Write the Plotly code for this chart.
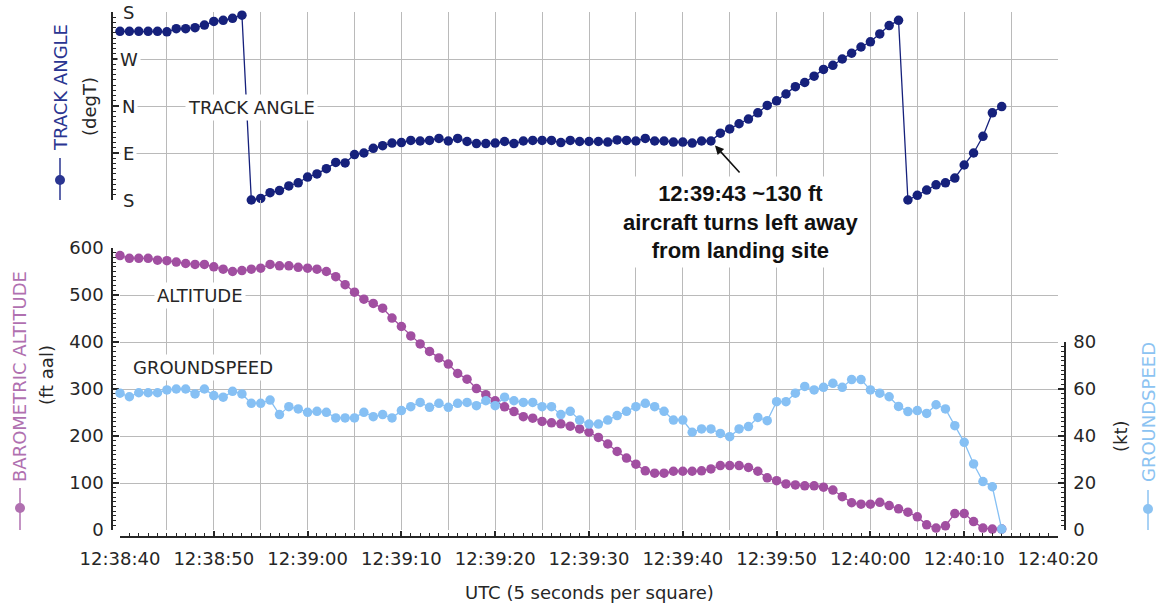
import pandas as pd
import plotly.graph_objects as go

# ---------------- data ----------------
START = "2024-01-01 12:38:40"
END = "2024-01-01 12:40:20"
TIMES = pd.date_range(START, periods=95, freq="1s")

TRACK_DEGT = [217, 217, 217, 217, 217, 218, 212, 212, 210, 205, 198, 196, 192, 186,
              180, 177, 166, 162, 153, 147, 136, 130, 120, 108, 109, 93, 90, 81, 76, 71,
              70, 66, 67, 66, 62, 67, 62, 68, 72, 72,
              71, 68, 72, 67, 66, 66, 66, 70, 66, 68,
              68, 68, 69, 65, 66, 67, 62, 67, 67, 69,
              69, 71, 67, 67, 52, 44, 34, 25, 13, 359,
              350, 337, 323, 315, 303, 290, 282, 270, 259, 247, 237, 222, 206, 196,
              180, 171, 161, 151, 147, 138, 113, 90, 58, 13, 1]

ALT_FT = [584, 578, 578, 578, 574, 573, 570, 567, 565, 565,
          560, 555, 550, 552, 555, 557, 565, 562, 562, 559,
          557, 555, 550, 539, 522, 506, 491, 482, 472, 451,
          433, 413, 396, 380, 366, 353, 333, 321, 301, 288,
          275, 262, 252, 241, 238, 231, 228, 226, 221, 215,
          208, 197, 183, 167, 153, 140, 126, 121, 121, 125,
          125, 125, 126, 130, 137, 137, 137, 133, 125, 111,
          105, 98, 96, 94, 94, 91, 85, 71, 58, 55,
          55, 59, 52, 45, 38, 28, 11, 4, 9, 35,
          35, 18, 4, 2, 2]

GS_KT = [58.2, 56.7, 58.4, 58.4, 58.4, 59.6, 60.0, 60.0, 57.9, 60.0,
         57.2, 56.5, 59.0, 57.9, 53.9, 53.9, 55.3, 49.1, 52.5, 51.5,
         50.1, 50.5, 50.1, 47.7, 47.7, 47.7, 50.1, 48.2, 49.1, 47.7,
         50.8, 52.5, 54.3, 52.2, 53.9, 52.2, 53.9, 54.3, 52.9, 55.0,
         52.9, 56.5, 55.0, 54.3, 54.3, 52.5, 52.5, 49.1, 50.5, 46.8,
         45.1, 45.1, 46.8, 48.7, 50.5, 52.5, 53.9, 52.5, 50.5, 46.8,
         46.8, 41.6, 43.0, 43.0, 41.1, 39.7, 43.0, 44.0, 47.9, 46.5,
         54.6, 54.6, 58.2, 61.1, 59.6, 60.7, 62.4, 60.7, 64.0, 64.0,
         59.6, 58.2, 56.7, 52.6, 50.4, 50.8, 49.6, 53.3, 51.5, 44.4,
         37.3, 28.1, 20.6, 18.4, 0.4]

TRACK_TICKVALS = [180, 270, 360, 450, 540]
TRACK_TICKTEXT = ["S", "W", "N", "E", "S"]
ALT_TICKVALS = [0, 100, 200, 300, 400, 500, 600]
GS_TICKVALS = [0, 20, 40, 60, 80]
TURN_INDEX = 63  # 12:39:43

# track angle displayed on a wrapped compass scale (S at top ... S at bottom)
TRACK_DISP = [h if h > 180 else h + 360 for h in TRACK_DEGT]

# ---------------- styling ----------------
W, H = 1159, 604
ML, MR, MT, MB = 112, 94, 12, 67
PW, PH = W - ML - MR, H - MT - MB


def px(x):  # window pixel -> paper
    return (x - ML) / PW


def py(y):
    return 1 - (y - MT) / PH


NAVY = "#16217c"
NAVY_T = "#2a3591"
PURPLE = "#a14fa1"
PURPLE_T = "#b070b0"
BLUE = "#86c0f4"
BLUE_T = "#8cc3f2"
GRID = "#bababa"
AXC = "#262626"
FONT = "DejaVu Sans"
FS = 18

XD = [px(120), px(1058)]
Y_TOP = [py(200), py(12)]
Y_GAP = [py(248), py(200)]
Y_ALT = [py(530), py(248)]
Y_GS = [py(530), py(342)]

fig = go.Figure()

fig.add_trace(go.Scatter(x=TIMES, y=TRACK_DISP, xaxis="x", yaxis="y", mode="lines+markers",
                         line=dict(color=NAVY, width=1.3), marker=dict(color=NAVY, size=9.5),
                         cliponaxis=False, showlegend=False, hoverinfo="skip"))
fig.add_trace(go.Scatter(x=[TIMES[0]], y=[None], xaxis="x", yaxis="y4", mode="markers",
                         showlegend=False, hoverinfo="skip"))
fig.add_trace(go.Scatter(x=TIMES, y=GS_KT, xaxis="x2", yaxis="y3", mode="lines+markers",
                         line=dict(color=BLUE, width=1.3), marker=dict(color=BLUE, size=9.5),
                         cliponaxis=False, showlegend=False, hoverinfo="skip"))
fig.add_trace(go.Scatter(x=TIMES, y=ALT_FT, xaxis="x", yaxis="y2", mode="lines+markers",
                         line=dict(color=PURPLE, width=1.3), marker=dict(color=PURPLE, size=9.5),
                         cliponaxis=False, showlegend=False, hoverinfo="skip"))
fig.add_trace(go.Scatter(x=[TIMES[0]], y=[None], xaxis="x3", yaxis="y2", mode="markers",
                         showlegend=False, hoverinfo="skip"))

tickfont = dict(family=FONT, size=FS, color=AXC)

fig.update_layout(
    width=W, height=H,
    margin=dict(l=ML, r=MR, t=MT, b=MB, autoexpand=False),
    paper_bgcolor="white", plot_bgcolor="rgba(0,0,0,0)",
    font=dict(family=FONT, size=FS, color=AXC),
    xaxis=dict(domain=XD, range=[START, END], type="date", anchor="y2",
               tickmode="linear", tick0=START, dtick=5000,
               showgrid=True, gridcolor=GRID, gridwidth=1.3,
               showticklabels=False, ticks="", showline=False, zeroline=False),
    xaxis2=dict(domain=XD, range=[START, END], type="date", anchor="y3", visible=False,
                showgrid=False),
    xaxis3=dict(domain=XD, range=[START, END], type="date", overlaying="x",
                anchor="free", position=0,
                tickmode="linear", tick0=START, dtick=10000, tickformat="%H:%M:%S",
                ticks="inside", ticklen=5, tickwidth=1.5, tickcolor=AXC,
                showline=True, linecolor=AXC, linewidth=1.5, showgrid=False, zeroline=False,
                tickfont=tickfont, ticklabelstandoff=6,
                minor=dict(tickmode="linear", tick0=START, dtick=1000, ticks="inside",
                           ticklen=3, tickwidth=1, tickcolor=AXC, showgrid=False)),
    yaxis=dict(domain=Y_TOP, range=[540, 180], anchor="free", position=0,
               tickmode="array", tickvals=TRACK_TICKVALS, showticklabels=False,
               ticks="inside", ticklen=6, tickwidth=1.5, tickcolor=AXC,
               showline=True, linecolor=AXC, linewidth=1.5,
               showgrid=True, gridcolor=GRID, gridwidth=1.3, zeroline=False,
               minor=dict(tickmode="array", tickvals=list(range(180, 541, 10)), ticks="inside",
                          ticklen=3, tickwidth=1, tickcolor=AXC, showgrid=False)),
    yaxis4=dict(domain=Y_GAP, range=[0, 1], anchor="x", visible=False, showgrid=False),
    yaxis2=dict(domain=Y_ALT, range=[0, 600], anchor="free", position=0,
                tickmode="array", tickvals=ALT_TICKVALS, tickfont=tickfont,
                ticks="inside", ticklen=6, tickwidth=1.5, tickcolor=AXC, ticklabelstandoff=4,
                showline=True, linecolor=AXC, linewidth=1.5,
                showgrid=True, gridcolor=GRID, gridwidth=1.3, zeroline=False,
                minor=dict(tickmode="linear", tick0=0, dtick=10, ticks="inside",
                           ticklen=3, tickwidth=1, tickcolor=AXC, showgrid=False)),
    yaxis3=dict(domain=Y_GS, range=[0, 80], anchor="free", position=1, side="right",
                tickmode="array", tickvals=GS_TICKVALS, tickfont=tickfont,
                ticks="inside", ticklen=6, tickwidth=1.5, tickcolor=AXC, ticklabelstandoff=4,
                showline=True, linecolor=AXC, linewidth=1.5,
                showgrid=False, zeroline=False,
                minor=dict(tickmode="linear", tick0=0, dtick=2, ticks="inside",
                           ticklen=3, tickwidth=1, tickcolor=AXC, showgrid=False)),
)

ann = []
# compass labels inside the top panel
for v, t in zip(TRACK_TICKVALS, TRACK_TICKTEXT):
    ann.append(dict(x=px(128.5), y=v, xref="paper", yref="y", text=t, showarrow=False,
                    xanchor="center", yanchor="middle", bgcolor="white", borderpad=2,
                    font=dict(family=FONT, size=FS, color=AXC)))

# series labels inside plots
ann.append(dict(x="2024-01-01 12:38:54", y=363, xref="x", yref="y", text="TRACK ANGLE",
                showarrow=False, bgcolor="white", borderpad=2,
                xanchor="center", yanchor="middle",
                font=dict(family=FONT, size=FS, color=AXC)))
ann.append(dict(x="2024-01-01 12:38:48.5", y=498, xref="x", yref="y2", text="ALTITUDE",
                showarrow=False, bgcolor="white", borderpad=2,
                xanchor="center", yanchor="middle",
                font=dict(family=FONT, size=FS, color=AXC)))
ann.append(dict(x="2024-01-01 12:38:48.85", y=345, xref="x", yref="y2", text="GROUNDSPEED",
                showarrow=False, bgcolor="white", borderpad=2,
                xanchor="center", yanchor="middle",
                font=dict(family=FONT, size=FS, color=AXC)))

# event note
ann.append(dict(x="2024-01-01 12:39:46.2", y=py(222), xref="x", yref="paper",
                text="12:39:43 ~130 ft<br>aircraft turns left away<br>from landing site",
                showarrow=False, bgcolor="white", borderpad=4, align="center",
                xanchor="center", yanchor="middle",
                font=dict(family="Liberation Sans", size=22, color="#111111", weight="bold")))
ann.append(dict(x=TIMES[TURN_INDEX], y=TRACK_DISP[TURN_INDEX], xref="x", yref="y", text="",
                showarrow=True, ax=30, ay=33, arrowhead=2, arrowsize=1.1, arrowwidth=1.6,
                arrowcolor="#111111", standoff=6))


# axis titles
def title(xc, yc, text, color, angle=-90):
    return dict(x=px(xc), y=py(yc), xref="paper", yref="paper", text=text, textangle=angle,
                xanchor="center", yanchor="middle", showarrow=False,
                font=dict(family=FONT, size=FS, color=color))


ann += [
    title(60, 88, "TRACK ANGLE", NAVY_T),
    title(89, 107, "(degT)", AXC),
    title(19, 377, "BAROMETRIC ALTITUDE", PURPLE_T),
    title(46, 375, "(ft aal)", AXC),
    title(1148, 412, "GROUNDSPEED", BLUE_T),
    title(1120, 436, "(kt)", AXC),
    title(589, 592, "UTC (5 seconds per square)", AXC, angle=0),
]
fig.update_layout(annotations=ann)

# legend-style icons beside the axis titles
shapes = []
for cx, y0, y1, cy, col in [(60, 158, 200, 180, NAVY_T), (20, 488, 530, 508, PURPLE_T),
                            (1148, 490, 530, 509, BLUE_T)]:
    shapes.append(dict(type="line", xref="paper", yref="paper", x0=px(cx), x1=px(cx),
                       y0=py(y0), y1=py(y1), line=dict(color=col, width=1.5)))
    r = 5
    shapes.append(dict(type="circle", xref="paper", yref="paper",
                       x0=px(cx - r), x1=px(cx + r), y0=py(cy + r), y1=py(cy - r),
                       fillcolor=col, line=dict(color=col, width=0)))
fig.update_layout(shapes=shapes)

fig.write_html("out.html", config={"displayModeBar": False},
               post_script="document.body.style.margin='0px';document.body.style.overflow='hidden';")
